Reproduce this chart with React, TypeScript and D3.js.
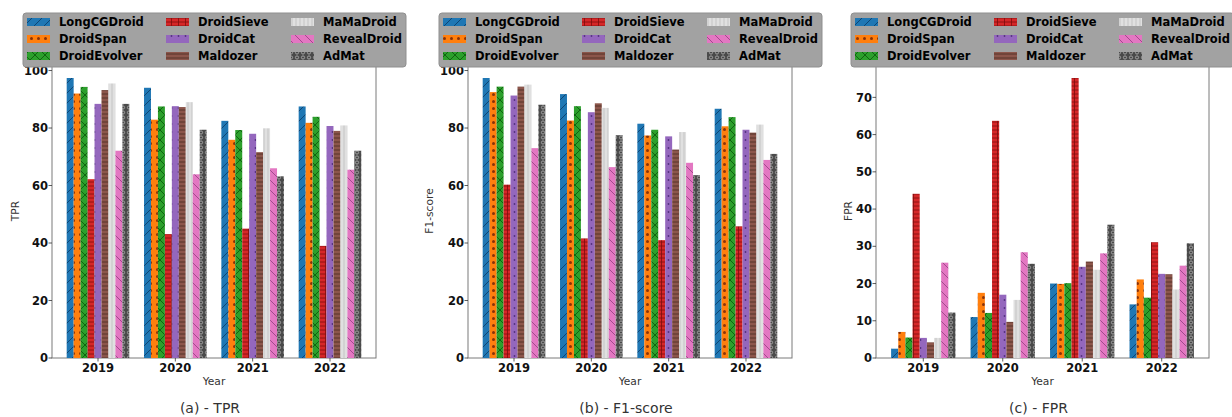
import * as d3 from "d3";

// categories
const YEARS = ["2019", "2020", "2021", "2022"];
const METHODS = [
  "LongCGDroid", "DroidSpan", "DroidEvolver",
  "DroidSieve", "DroidCat", "Maldozer",
  "MaMaDroid", "RevealDroid", "AdMat",
];

// values per method, one entry per year
const TPR = [
  [97.4, 94.0, 82.5, 87.5],
  [92.0, 82.9, 75.9, 81.8],
  [94.3, 87.5, 79.3, 83.9],
  [62.2, 43.1, 45.0, 39.0],
  [88.4, 87.6, 78.0, 80.7],
  [93.2, 87.3, 71.6, 79.0],
  [95.5, 89.0, 79.9, 80.9],
  [72.1, 63.9, 66.0, 65.5],
  [88.4, 79.4, 63.2, 72.1],
];
const F1 = [
  [97.4, 91.8, 81.5, 86.7],
  [92.5, 82.6, 77.4, 80.6],
  [94.4, 87.6, 79.4, 83.8],
  [60.3, 41.6, 41.0, 45.8],
  [91.3, 85.5, 77.1, 79.4],
  [94.4, 88.6, 72.5, 78.4],
  [95.1, 87.0, 78.6, 81.2],
  [73.0, 66.4, 67.9, 68.9],
  [88.1, 77.5, 63.6, 71.0],
];
const FPR = [
  [2.5, 11.0, 20.0, 14.4],
  [7.0, 17.5, 19.9, 21.1],
  [5.5, 12.1, 20.1, 16.2],
  [44.1, 63.7, 75.2, 31.1],
  [5.4, 17.0, 24.5, 22.6],
  [4.2, 9.7, 25.9, 22.5],
  [5.4, 15.6, 23.7, 18.4],
  [25.6, 28.4, 28.1, 24.8],
  [12.2, 25.3, 35.8, 30.8],
];

const TPR_TICKS = [0, 20, 40, 60, 80, 100];
const F1_TICKS = [0, 20, 40, 60, 80, 100];
const FPR_TICKS = [0, 10, 20, 30, 40, 50, 60, 70];

const COLORS = ["#1f77b4", "#ff7f0e", "#2ca02c", "#d62728", "#9467bd", "#8c564b", "#d2d2d2", "#e377c2", "#4a4a4a"];
const HATCH = ["#0d3f6b", "#8a3208", "#0f5c0f", "#7e0d0d", "#52307f", "#4f2e26", "#ededed", "#9c4487", "#a9a9a9"];

const BAR_W = 0.09;

const FONT = "'DejaVu Sans', sans-serif";

const panels = [
  { data: TPR, ticks: TPR_TICKS, ylabel: "TPR", caption: "(a) - TPR", left: 52, right: 376, legendX: 23, tickRight: 48, ylabX: 15 },
  { data: F1, ticks: F1_TICKS, ylabel: "F1-score", caption: "(b) - F1-score", left: 468, right: 792, legendX: 439, tickRight: 464, ylabX: 429 },
  { data: FPR, ticks: FPR_TICKS, ylabel: "FPR", caption: "(c) - FPR", left: 876, right: 1209, legendX: 851, tickRight: 872, ylabX: 848 },
];

const TOP = 64;
const BOTTOM = 358;

function Patterns() {
  return (
    <defs>
      {/* / */}
      <pattern id="h0" width="10" height="10" patternUnits="userSpaceOnUse">
        <rect width="10" height="10" fill={COLORS[0]} />
        <path d="M-2,2 L2,-2 M0,10 L10,0 M8,12 L12,8" stroke={HATCH[0]} strokeWidth="0.9" />
      </pattern>
      {/* o */}
      <pattern id="h1" width="7" height="7" patternUnits="userSpaceOnUse">
        <rect width="7" height="7" fill={COLORS[1]} />
        <circle cx="3.5" cy="3.5" r="1.5" fill={HATCH[1]} />
      </pattern>
      {/* x */}
      <pattern id="h2" width="10" height="10" patternUnits="userSpaceOnUse">
        <rect width="10" height="10" fill={COLORS[2]} />
        <path d="M0,0 L10,10 M0,10 L10,0" stroke={HATCH[2]} strokeWidth="0.9" />
      </pattern>
      {/* + */}
      <pattern id="h3" width="7" height="4" patternUnits="userSpaceOnUse">
        <rect width="7" height="4" fill={COLORS[3]} />
        <path d="M0,2 L7,2 M3.5,0 L3.5,4" stroke={HATCH[3]} strokeWidth="0.8" />
      </pattern>
      {/* . */}
      <pattern id="h4" width="7" height="8" patternUnits="userSpaceOnUse">
        <rect width="7" height="8" fill={COLORS[4]} />
        <circle cx="3.5" cy="4" r="0.9" fill={HATCH[4]} />
      </pattern>
      {/* - */}
      <pattern id="h5" width="7" height="4" patternUnits="userSpaceOnUse">
        <rect width="7" height="4" fill={COLORS[5]} />
        <path d="M0,2 L7,2" stroke={HATCH[5]} strokeWidth="0.9" />
      </pattern>
      {/* | */}
      <pattern id="h6" width="4" height="4" patternUnits="userSpaceOnUse">
        <rect width="4" height="4" fill={COLORS[6]} />
        <path d="M2,0 L2,4" stroke={HATCH[6]} strokeWidth="1.1" />
      </pattern>
      {/* \ */}
      <pattern id="h7" width="10" height="10" patternUnits="userSpaceOnUse">
        <rect width="10" height="10" fill={COLORS[7]} />
        <path d="M-2,8 L2,12 M0,0 L10,10 M8,-2 L12,2" stroke={HATCH[7]} strokeWidth="0.9" />
      </pattern>
      {/* O */}
      <pattern id="h8" width="6" height="5" patternUnits="userSpaceOnUse">
        <rect width="6" height="5" fill={COLORS[8]} />
        <circle cx="3" cy="2.5" r="1.6" fill="none" stroke={HATCH[8]} strokeWidth="0.9" />
      </pattern>
    </defs>
  );
}

function Legend({ x }: { x: number }) {
  const colX = [4, 143, 268];
  const rowY = [22, 39, 56];
  return (
    <g>
      <rect x={x} y={13} width={383} height={54} rx={3} fill="#a2a2a2" stroke="#8f8f8f" strokeWidth={1} />
      {METHODS.map((m, i) => {
        const col = Math.floor(i / 3);
        const row = i % 3;
        const px = x + colX[col];
        const py = rowY[row];
        return (
          <g key={m}>
            <rect x={px} y={py - 4} width={23} height={8} fill={`url(#h${i})`} />
            <text x={px + 32} y={py + 4.2} fontFamily={FONT} fontWeight="bold" fontSize={11.5} fill="#000">
              {m}
            </text>
          </g>
        );
      })}
    </g>
  );
}

function Panel({ p }: { p: typeof panels[number] }) {
  const x = d3.scaleLinear().domain([-0.595, 3.595]).range([p.left, p.right]);
  const ymax = (d3.max(p.data.flat()) as number) * 1.05;
  const y = d3.scaleLinear().domain([0, ymax]).range([BOTTOM, TOP]);
  const cx = (p.left + p.right) / 2;
  return (
    <g>
      <rect x={p.left} y={TOP} width={p.right - p.left} height={BOTTOM - TOP} fill="#fff" stroke="#7a7a7a" strokeWidth={1} />
      {METHODS.map((m, i) =>
        YEARS.map((yr, j) => {
          const v = p.data[i][j];
          const x0 = x(j + (i - 4) * BAR_W - BAR_W / 2);
          const x1 = x(j + (i - 4) * BAR_W + BAR_W / 2);
          return (
            <rect key={m + yr} x={x0} y={y(v)} width={x1 - x0} height={BOTTOM - y(v)} fill={`url(#h${i})`} />
          );
        })
      )}
      {p.ticks.map((t) => (
        <g key={t}>
          <line x1={p.left - 3.5} x2={p.left} y1={y(t)} y2={y(t)} stroke="#333" strokeWidth={0.8} />
          <text x={p.tickRight} y={y(t) + 4.2} textAnchor="end" fontFamily={FONT} fontWeight="bold" fontSize={11.5} fill="#111">
            {t}
          </text>
        </g>
      ))}
      {YEARS.map((yr, j) => (
        <g key={yr}>
          <line x1={x(j)} x2={x(j)} y1={BOTTOM} y2={BOTTOM + 3.5} stroke="#333" strokeWidth={0.8} />
          <text x={x(j)} y={BOTTOM + 13.5} textAnchor="middle" fontFamily={FONT} fontWeight="bold" fontSize={11.5} fill="#111">
            {yr}
          </text>
        </g>
      ))}
      <text x={cx} y={BOTTOM + 27} textAnchor="middle" fontFamily={FONT} fontSize={10.7} fill="#333">
        Year
      </text>
      <text
        transform={`translate(${p.ylabX},${(TOP + BOTTOM) / 2}) rotate(-90)`}
        textAnchor="middle"
        dominantBaseline="central"
        fontFamily={FONT}
        fontSize={10.7}
        fill="#333"
      >
        {p.ylabel}
      </text>
      <text x={cx - 4} y={413} textAnchor="middle" fontFamily={FONT} fontSize={14} fill="#333">
        {p.caption}
      </text>
      <Legend x={p.legendX} />
    </g>
  );
}

export default function App() {
  return (
    <svg
      width={1232}
      height={417}
      viewBox="0 0 1232 417"
      style={{ position: "absolute", left: 0, top: 0, background: "#fff" }}
    >
      <Patterns />
      <rect width={1232} height={417} fill="#fff" />
      {panels.map((p) => (
        <Panel key={p.ylabel} p={p} />
      ))}
    </svg>
  );
}
